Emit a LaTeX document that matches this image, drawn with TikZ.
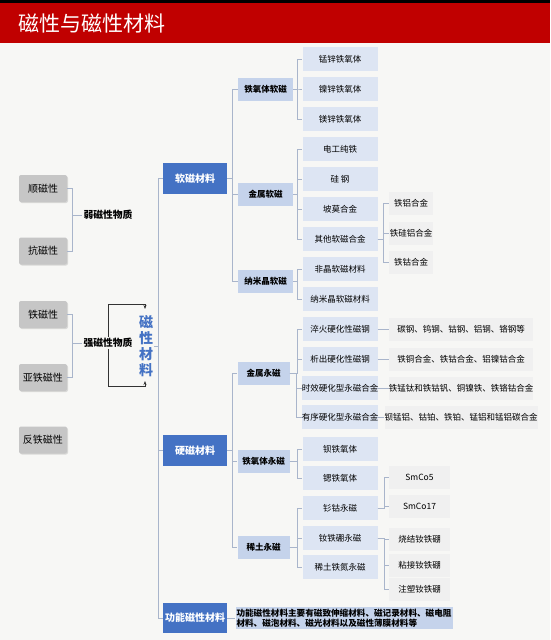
\documentclass[tikz,border=0pt]{standalone}
\usepackage{fontspec}
\setmainfont{Noto Sans CJK SC}
\usetikzlibrary{shadows,arrows.meta}
\definecolor{bg}{HTML}{F7F7F5}
\definecolor{hdred}{HTML}{C00000}
\definecolor{dblue}{HTML}{4472C4}
\definecolor{mblue}{HTML}{C5D3EB}
\definecolor{lblue}{HTML}{DDE5F3}
\definecolor{lgrey}{HTML}{F0F0F0}
\definecolor{boxgrey}{HTML}{C6C6C6}
\definecolor{conn}{HTML}{A9B5CB}
\tikzset{
  lvlone/.style={fill=dblue,text=white,font=\fontsize{10}{12}\selectfont\bfseries,minimum width=64pt,minimum height=31pt,inner sep=0pt},
  lvltwo/.style={fill=mblue,font=\fontsize{8.5}{10}\selectfont\bfseries,minimum width=52pt,minimum height=23pt,inner sep=0pt},
  lvlthree/.style={fill=lblue,font=\fontsize{8.5}{10}\selectfont,minimum width=75pt,minimum height=24pt,inner sep=0pt},
  lvlfour/.style={fill=lgrey,font=\fontsize{8.5}{10}\selectfont,minimum height=23pt,inner sep=0pt},
  leftbox/.style={fill=boxgrey,rounded corners=2pt,drop shadow={opacity=0.25,shadow xshift=1pt,shadow yshift=-1pt},font=\fontsize{10}{12}\selectfont,minimum width=48pt,minimum height=27pt,inner sep=0pt},
  grouplbl/.style={fill=bg,font=\fontsize{9.8}{12}\selectfont\bfseries,inner sep=1pt},
  cline/.style={draw=conn,line width=0.7pt},
  arrline/.style={draw=black!80,line width=0.7pt,-{Stealth[length=4pt,width=3pt]}}
}
\begin{document}
\begin{tikzpicture}[x=1pt,y=-1pt]
\useasboundingbox (0,0) rectangle (550,640);
\fill[bg] (0,0) rectangle (550,640);
\fill[black] (0,0) rectangle (550,3);
\fill[hdred] (0,3) rectangle (550,43);
\node[anchor=west,text=white,font=\fontsize{21}{24}\selectfont,inner sep=0pt] (title) at (18,23) {磁性与磁性材料};

% left column
\node[leftbox] (shun) at (43,188.5) {顺磁性};
\node[leftbox] (kang) at (43,251) {抗磁性};
\node[leftbox] (tie) at (43,314.5) {铁磁性};
\node[leftbox] (ya) at (43,377.5) {亚铁磁性};
\node[leftbox] (fan) at (43,440) {反铁磁性};
\node[grouplbl] (ruo) at (108,215) {弱磁性物质};
\node[grouplbl] (qiang) at (108,343) {强磁性物质};
\foreach \b in {shun,kang} {\draw[cline] (\b.east) -| ([xshift=-10pt]ruo.west) -- (ruo.west);}
\foreach \b in {tie,ya} {\draw[cline] (\b.east) -| ([xshift=-10pt]qiang.west) -- (qiang.west);}

% central label
\node[text=dblue,font=\fontsize{14}{16}\selectfont\bfseries,align=center,inner sep=1pt] (mag) at (146,346) {磁\\性\\材\\料};
\coordinate (ta) at (145,309);
\coordinate (ba) at (145,381);
\draw[arrline] (qiang.north) |- ([yshift=5pt]ta) -- (ta);
\draw[arrline] (qiang.south) |- ([yshift=-5pt]ba) -- (ba);

% level one
\node[lvlone] (soft) at (195,178.5) {软磁材料};
\node[lvlone] (hard) at (195,450.5) {硬磁材料};
\node[lvlone,minimum height=30pt] (func) at (195,618) {功能磁性材料};
\node[fill=mblue,font=\fontsize{8.6}{10.5}\selectfont\bfseries,align=left,minimum width=212pt,minimum height=22pt,inner sep=1pt] (desc) at (344,618) {功能磁性材料主要有磁致伸缩材料、磁记录材料、磁电阻\\材料、磁泡材料、磁光材料以及磁性薄膜材料等};
\draw[cline] (mag.east) -- ++(4,0) coordinate (mj);
\foreach \c in {soft,hard,func} {\draw[cline] (mj) |- (\c.west);}
\draw[cline] (func.east) -- (desc.west);

% soft branch
\node[lvltwo,minimum width=55pt] (fsoft) at (265.5,89) {铁氧体软磁};
\node[lvltwo,minimum width=55pt] (msoft) at (265.5,194) {金属软磁};
\node[lvltwo,minimum width=55pt] (nsoft) at (265.5,281) {纳米晶软磁};
\foreach \c in {fsoft,msoft,nsoft} {\draw[cline] (soft.east) -| ([xshift=-5pt]\c.west) -- (\c.west);}

\node[lvlthree] (s1) at (340,59) {锰锌铁氧体};
\node[lvlthree] (s2) at (340,89) {镍锌铁氧体};
\node[lvlthree] (s3) at (340,119) {镁锌铁氧体};
\node[lvlthree] (s4) at (340,149) {电工纯铁};
\node[lvlthree] (s5) at (340,179) {硅\ 钢};
\node[lvlthree] (s6) at (340,209) {坡莫合金};
\node[lvlthree] (s7) at (340,239) {其他软磁合金};
\node[lvlthree] (s8) at (340,269) {非晶软磁材料};
\node[lvlthree] (s9) at (340,299) {纳米晶软磁材料};
\foreach \c in {s1,s2,s3} {\draw[cline] (fsoft.east) -| ([xshift=-5pt]\c.west) -- (\c.west);}
\foreach \c in {s4,s5,s6,s7} {\draw[cline] (msoft.east) -| ([xshift=-5pt]\c.west) -- (\c.west);}
\foreach \c in {s8,s9} {\draw[cline] (nsoft.east) -| ([xshift=-5pt]\c.west) -- (\c.west);}

\node[lvlfour,minimum width=44pt] (a1) at (411,203) {铁铝合金};
\node[lvlfour,minimum width=44pt] (a2) at (411,233) {铁硅铝合金};
\node[lvlfour,minimum width=44pt] (a3) at (411,262) {铁钴合金};
\foreach \c in {a1,a2,a3} {\draw[cline] (s7.east) -| ([xshift=-5pt]\c.west) -- (\c.west);}

% hard branch
\node[lvltwo] (mhard) at (263.5,373) {金属永磁};
\node[lvltwo] (fhard) at (263.5,461) {铁氧体永磁};
\node[lvltwo] (rhard) at (263.5,547) {稀土永磁};
\foreach \c in {mhard,fhard,rhard} {\draw[cline] (hard.east) -| ([xshift=-5pt]\c.west) -- (\c.west);}

\node[lvlthree] (h1) at (340,329) {淬火硬化性磁钢};
\node[lvlthree] (h2) at (340,359) {析出硬化性磁钢};
\node[lvlthree] (h3) at (340,388) {时效硬化型永磁合金};
\node[lvlthree] (h4) at (340,417) {有序硬化型永磁合金};
\node[lvlthree] (h5) at (340,449) {钡铁氧体};
\node[lvlthree] (h6) at (340,478) {锶铁氧体};
\node[lvlthree] (h7) at (340,508) {钐钴永磁};
\node[lvlthree] (h8) at (340,538) {钕铁硼永磁};
\node[lvlthree] (h9) at (340,567) {稀土铁氮永磁};
\foreach \c in {h1,h2,h3,h4} {\draw[cline] (mhard.east) -| ([xshift=-5pt]\c.west) -- (\c.west);}
\foreach \c in {h5,h6} {\draw[cline] (fhard.east) -| ([xshift=-5pt]\c.west) -- (\c.west);}
\foreach \c in {h7,h8,h9} {\draw[cline] (rhard.east) -| ([xshift=-5pt]\c.west) -- (\c.west);}

\node[lvlfour,minimum width=144pt] (d1) at (461,329) {碳钢、钨钢、钴钢、铝钢、铬钢等};
\node[lvlfour,minimum width=144pt] (d2) at (461,359) {铁铜合金、铁钴合金、铝镍钴合金};
\node[lvlfour,minimum width=144pt] (d3) at (461,388) {铁锰钛和铁钴钒、铜镍铁、铁铬钴合金};
\node[lvlfour,minimum width=144pt] (d4) at (461,417) {钡锰铝、钴铂、铁铂、锰铝和锰铝碳合金};
\draw[cline] (h1.east) -- (d1.west);
\draw[cline] (h2.east) -- (d2.west);
\draw[cline] (h3.east) -- (d3.west);
\draw[cline] (h4.east) -- (d4.west);

\node[lvlfour,minimum width=61pt] (e1) at (419.5,477) {SmCo5};
\node[lvlfour,minimum width=61pt] (e2) at (419.5,506) {SmCo17};
\node[lvlfour,minimum width=61pt] (e3) at (419.5,539) {烧结钕铁硼};
\node[lvlfour,minimum width=61pt] (e4) at (419.5,565) {粘接钕铁硼};
\node[lvlfour,minimum width=61pt] (e5) at (419.5,589) {注塑钕铁硼};
\foreach \c in {e1,e2} {\draw[cline] (h7.east) -| ([xshift=-4pt]\c.west) -- (\c.west);}
\foreach \c in {e3,e4,e5} {\draw[cline] (h8.east) -| ([xshift=-4pt]\c.west) -- (\c.west);}
\end{tikzpicture}
\end{document}
